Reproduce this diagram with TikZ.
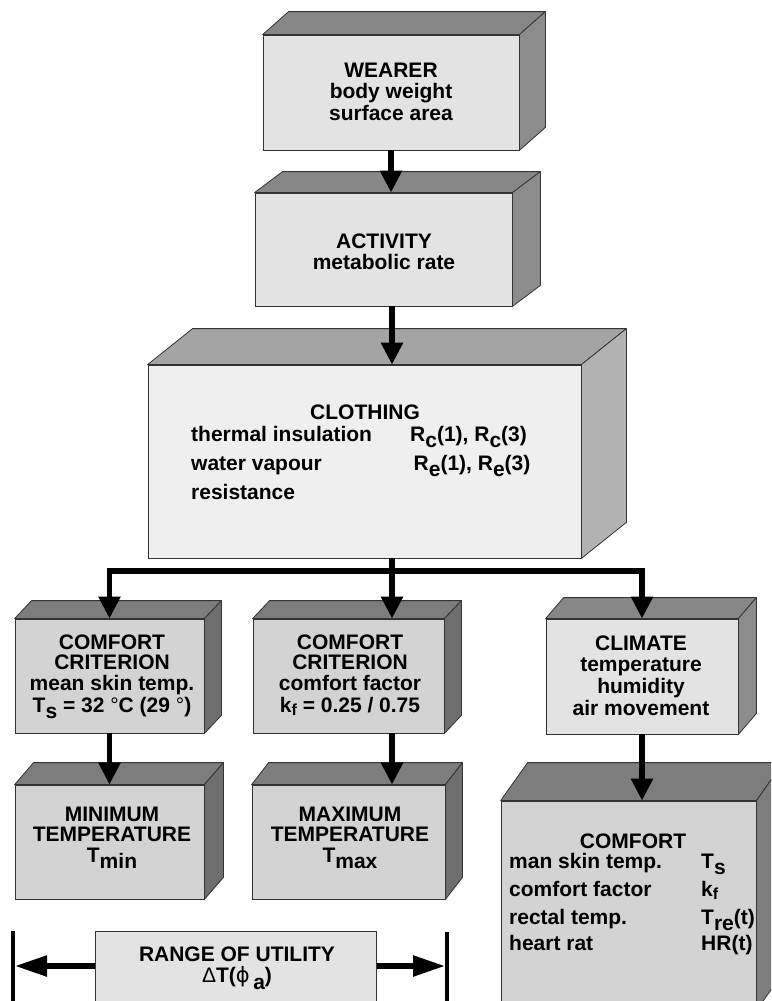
\documentclass[tikz,border=0pt]{standalone}
\usepackage{fontspec}
\setmainfont{Liberation Sans}
\newfontfamily\dejavu{DejaVu Sans}
\usetikzlibrary{arrows.meta,calc}
\definecolor{frontA}{HTML}{E3E3E3}
\definecolor{frontB}{HTML}{EFEFEF}
\definecolor{frontC}{HTML}{D3D3D3}
\definecolor{topA}{HTML}{878787}
\definecolor{sideA}{HTML}{8C8C8C}
\definecolor{topB}{HTML}{A4A4A4}
\definecolor{sideB}{HTML}{B2B2B2}
\definecolor{topC}{HTML}{7D7D7D}
\definecolor{sideC}{HTML}{6E6E6E}
\definecolor{edgecol}{HTML}{333333}
\newcommand\subx[1]{\raisebox{-6.5pt}{#1}}
\newcommand\subsm[1]{\raisebox{-3pt}{\fontsize{16}{16}\selectfont #1}}
\newcommand\ctab[1]{\begin{tabular}[t]{@{}c@{}}#1\end{tabular}}
\newcommand\cubefaces[5]{%
  \filldraw[boxedge, fill=#4] (#1.north west) -- ++(#2,#3) -- ($(#1.north east)+(#2,#3)$) -- (#1.north east) -- cycle;
  \filldraw[boxedge, fill=#5] (#1.north east) -- ++(#2,#3) -- ($(#1.south east)+(#2,#3)$) -- (#1.south east) -- cycle;}
\tikzset{
  boxedge/.style={draw=edgecol, line width=0.8pt, line join=round},
  frontbox/.style={draw=edgecol, line width=0.8pt, inner sep=0pt, rectangle},
  txt/.style={inner sep=0pt, font=\bfseries\fontsize{21}{21}\selectfont},
  arr/.style={line width=5.5pt, -{Triangle[length=22pt,width=21pt]}},
  harr/.style={line width=5.5pt, -{Triangle[length=32pt,width=20pt]}},
  bar/.style={line width=3.5pt}
}
\begin{document}
\begin{tikzpicture}[x=1pt,y=-1pt]
\clip (0,0) rectangle (771,1001);
\fill[white] (0,0) rectangle (771,1001);

% WEARER
\node[frontbox, fill=frontA, minimum width=256pt, minimum height=115pt] (wearer) at (391,92.5) {};
\cubefaces{wearer}{26}{-23}{topA}{sideA}
\node[txt, anchor=base] (wearertxt) at (391,77) {\ctab{WEARER\\body weight\\surface area}};

% ACTIVITY
\node[frontbox, fill=frontA, minimum width=257pt, minimum height=113pt] (activity) at (383.5,249.5) {};
\cubefaces{activity}{28}{-21}{topA}{sideA}
\node[txt, anchor=base] (activitytxt) at (384,248) {\ctab{ACTIVITY\\metabolic rate}};

% CLOTHING
\node[frontbox, fill=frontB, minimum width=433pt, minimum height=193pt] (clothing) at (364.5,461.5) {};
\cubefaces{clothing}{45}{-36}{topB}{sideB}
\node[txt, anchor=base] (clothinghead) at (365,419) {CLOTHING};
\node[txt, anchor=base west] (clothingrows) at (191,441) {\begin{tabular}[t]{@{}p{219pt}@{}l@{}}
thermal insulation & R\subx{c}(1), R\subx{c}(3)\\[7.5pt]
water vapour & \,R\subx{e}(1), R\subx{e}(3)\\[7.5pt]
resistance & \end{tabular}};

% COMFORT CRITERION 1
\node[frontbox, fill=frontC, minimum width=189pt, minimum height=114pt] (crit1) at (109.5,676) {};
\cubefaces{crit1}{17}{-18}{topC}{sideC}
\node[txt, anchor=base, font=\bfseries\fontsize{21}{20}\selectfont] (crit1txt) at (112,649) {\ctab{COMFORT\\CRITERION\\mean skin temp.\\T\subx{s} = 32 {\mdseries°}C (29 {\mdseries°})}};

% COMFORT CRITERION 2
\node[frontbox, fill=frontC, minimum width=191pt, minimum height=114pt] (crit2) at (348.5,676) {};
\cubefaces{crit2}{17}{-18}{topC}{sideC}
\node[txt, anchor=base, font=\bfseries\fontsize{21}{20}\selectfont] (crit2txt) at (350,649) {\ctab{COMFORT\\CRITERION\\comfort factor\\k\subsm{f} = 0.25 / 0.75}};

% CLIMATE
\node[frontbox, fill=frontA, minimum width=192pt, minimum height=115pt] (climate) at (642,676.5) {};
\cubefaces{climate}{18}{-21}{topA}{sideA}
\node[txt, anchor=base, font=\bfseries\fontsize{21}{21.7}\selectfont] (climatetxt) at (641,650) {\ctab{CLIMATE\\temperature\\humidity\\air movement}};

% MINIMUM TEMPERATURE
\node[frontbox, fill=frontC, minimum width=189pt, minimum height=114pt] (mintemp) at (109.5,842) {};
\cubefaces{mintemp}{19}{-22}{topC}{sideC}
\node[txt, anchor=base, font=\bfseries\fontsize{21}{20.5}\selectfont] (mintxt) at (112,821) {\ctab{MINIMUM\\TEMPERATURE\\T\subx{min}}};

% MAXIMUM TEMPERATURE
\node[frontbox, fill=frontC, minimum width=193pt, minimum height=114pt] (maxtemp) at (348.5,842) {};
\cubefaces{maxtemp}{17}{-22}{topC}{sideC}
\node[txt, anchor=base, font=\bfseries\fontsize{21}{20.5}\selectfont] (maxtxt) at (350,821) {\ctab{MAXIMUM\\TEMPERATURE\\T\subx{max}}};

% COMFORT
\node[frontbox, fill=frontC, minimum width=255pt, minimum height=209pt] (comfort) at (628.5,905.5) {};
\cubefaces{comfort}{27}{-38}{topC}{topC}
\node[txt, anchor=base] (comforthead) at (633,848) {COMFORT};
\node[txt, anchor=base west] (comfortrows) at (509,868) {\begin{tabular}[t]{@{}p{192pt}@{}l@{}}
man skin temp. & T\subx{s}\\[7pt]
comfort factor & k\subsm{f}\\[6pt]
rectal temp. & T\subx{re}(t)\\[5pt]
heart rat & HR(t)\end{tabular}};

% RANGE OF UTILITY
\node[frontbox, fill=frontA, minimum width=281pt, minimum height=90pt, anchor=north west] (range) at (95,931) {};
\node[txt, anchor=base, font=\bfseries\fontsize{21}{19}\selectfont] (rangetxt) at (237,961) {\ctab{RANGE OF UTILITY\\{\mdseries Δ}T({\dejavu\mdseries ϕ}\,\subx{a})}};
\coordinate (lbartop) at (13,931);
\coordinate (lbarbot) at (13,1010);
\coordinate (rbartop) at (447,932);
\coordinate (rbarbot) at (447,1010);
\draw[bar] (lbartop) -- (lbarbot);
\draw[bar] (rbartop) -- (rbarbot);
\coordinate (ltip) at (15,966);
\coordinate (rtip) at (445,966);
\draw[harr] (range.north west |- ltip) -- (ltip);
\draw[harr] (range.north east |- rtip) -- (rtip);

% connectors
\coordinate (busL) at (109.5,571);
\coordinate (busM) at (392,571);
\coordinate (busR) at (642,571);
\draw[arr] (wearer.south) -- (wearer.south |- activity.north);
\draw[arr] (busM |- activity.south) -- (busM |- clothing.north);
\draw[line width=5.5pt, {Triangle[length=22pt,width=21pt]}-{Triangle[length=22pt,width=21pt]}]
  (busL |- crit1.north) -- (busL) -- (busR) -- (climate.north);
\draw[arr] (busM |- clothing.south) -- (busM |- crit2.north);
\draw[arr] (crit1.south) -- (mintemp.north);
\draw[arr] (busM |- crit2.south) -- (busM |- maxtemp.north);
\draw[arr] (climate.south) -- (climate.south |- comfort.north);
\end{tikzpicture}
\end{document}
